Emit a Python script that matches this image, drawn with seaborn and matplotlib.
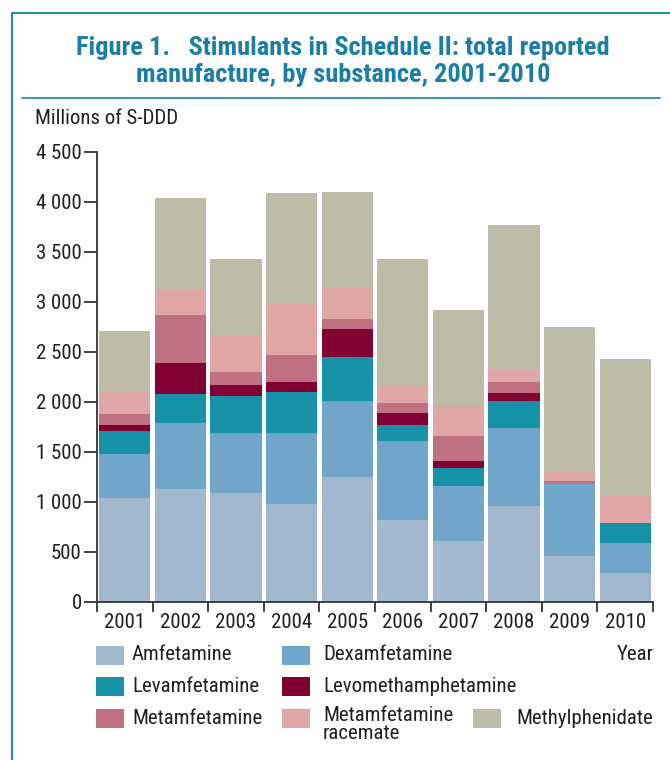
import numpy as np
import pandas as pd
import seaborn as sns
import matplotlib.pyplot as plt
from matplotlib.patches import Rectangle
from matplotlib.lines import Line2D
from matplotlib.ticker import FuncFormatter, MultipleLocator

years = ["2001", "2002", "2003", "2004", "2005", "2006", "2007", "2008", "2009", "2010"]

# segment sizes, millions of S-DDD
amfetamine = [1040, 1125, 1085, 975, 1245, 815, 605, 955, 455, 285]
dexamfetamine = [435, 660, 600, 710, 760, 790, 550, 780, 720, 300]
levamfetamine = [230, 290, 370, 410, 440, 160, 180, 270, 0, 200]
levomethamphetamine = [60, 310, 110, 100, 280, 120, 70, 80, 0, 0]
metamfetamine = [110, 480, 130, 270, 100, 100, 250, 110, 30, 0]
metamfetamine_racemate = [220, 250, 370, 510, 310, 180, 310, 120, 100, 280]
methylphenidate = [610, 920, 760, 1110, 960, 1260, 950, 1450, 1440, 1360]

substances = ["Amfetamine", "Dexamfetamine", "Levamfetamine", "Levomethamphetamine",
              "Metamfetamine", "Metamfetamine\nracemate", "Methylphenidate"]
colors = ["#a3b8cc", "#6fa6c9", "#1592a8", "#820033", "#c07080", "#e0a5a5", "#bdbca8"]

series = [amfetamine, dexamfetamine, levamfetamine, levomethamphetamine,
          metamfetamine, metamfetamine_racemate, methylphenidate]

sns.set_style("ticks")
plt.rcParams['font.family'] = ['Roboto Condensed', 'Liberation Sans', 'DejaVu Sans']
txt = "#231f20"
fs = 15

W, H = 670, 760
fig = plt.figure(figsize=(6.7, 7.6), dpi=100)
ax = fig.add_axes([97 / W, 1 - 601.5 / H, 556 / W, 450 / H])

# stacked bars: draw cumulative totals from the top down so lower layers cover
df = pd.DataFrame({"year": years})
cum = np.cumsum(np.array(series), axis=0)
for i in range(len(series) - 1, -1, -1):
    df["total"] = cum[i]
    sns.barplot(data=df, x="year", y="total", color=colors[i], width=0.92,
                saturation=1, ax=ax, linewidth=0)

ax.set_xlim(-0.5, 9.5)
ax.set_ylim(0, 4500)
ax.set_xlabel("")
ax.set_ylabel("")
ax.yaxis.set_major_locator(MultipleLocator(500))
ax.yaxis.set_major_formatter(FuncFormatter(lambda v, p: f"{int(v):,}".replace(",", " ")))
ax.set_xticks(np.arange(-0.5, 10, 1), minor=True)
ax.tick_params(axis="x", which="major", length=0, labelsize=fs, pad=8.5)
ax.tick_params(axis="x", which="minor", length=7, width=1.3, direction="out", color="#333333")
ax.tick_params(axis="y", length=9.5, width=1.3, labelsize=fs, color="#333333", pad=1.5)
for lab in ax.get_yticklabels() + ax.get_xticklabels():
    lab.set_color(txt)
sns.despine(ax=ax, top=True, right=True)
for side in ["left", "bottom"]:
    ax.spines[side].set_linewidth(1.3)
    ax.spines[side].set_color("#333333")

# frame and title
frame = "#2a8ab0"
fig.add_artist(Line2D([12 / W, 1], [1 - 13 / H, 1 - 13 / H], color=frame, lw=1.5))
fig.add_artist(Line2D([12 / W, 12 / W], [0, 1 - 13 / H], color=frame, lw=1.5))
fig.add_artist(Line2D([22 / W, 660 / W], [1 - 98 / H, 1 - 98 / H], color=frame, lw=1.3))
fig.text(343 / W, 1 - 61.5 / H,
         "Figure 1.   Stimulants in Schedule II: total reported\nmanufacture, by substance, 2001-2010",
         ha="center", va="center", fontsize=19, fontweight="bold", color="#1a7fa8",
         linespacing=1.12)
fig.text(35 / W, 1 - 118 / H, "Millions of S-DDD", ha="left", va="center",
         fontsize=fs, color=txt)
fig.text(617 / W, 1 - 654 / H, "Year", ha="left", va="center", fontsize=fs, color=txt)

# legend laid out like the original (three rows)
legend_pos = [(96, 655), (282, 655), (96, 686), (282, 686), (96, 718), (282, 718), (473, 718)]
text_gap = [36, 41, 36, 41, 36, 41, 43]
for (px, py), gap, name, c in zip(legend_pos, text_gap, substances, colors):
    fig.add_artist(Rectangle((px / W, 1 - (py + 9.5) / H), 28 / W, 19 / H,
                             transform=fig.transFigure, color=c, lw=0))
    if "\n" in name:
        fig.text((px + gap) / W, 1 - (py - 12) / H, name, ha="left", va="top",
                 fontsize=fs, color=txt, linespacing=0.95)
    else:
        fig.text((px + gap) / W, 1 - py / H, name, ha="left", va="center",
                 fontsize=fs, color=txt)

fig.savefig("out.png", dpi=100)
